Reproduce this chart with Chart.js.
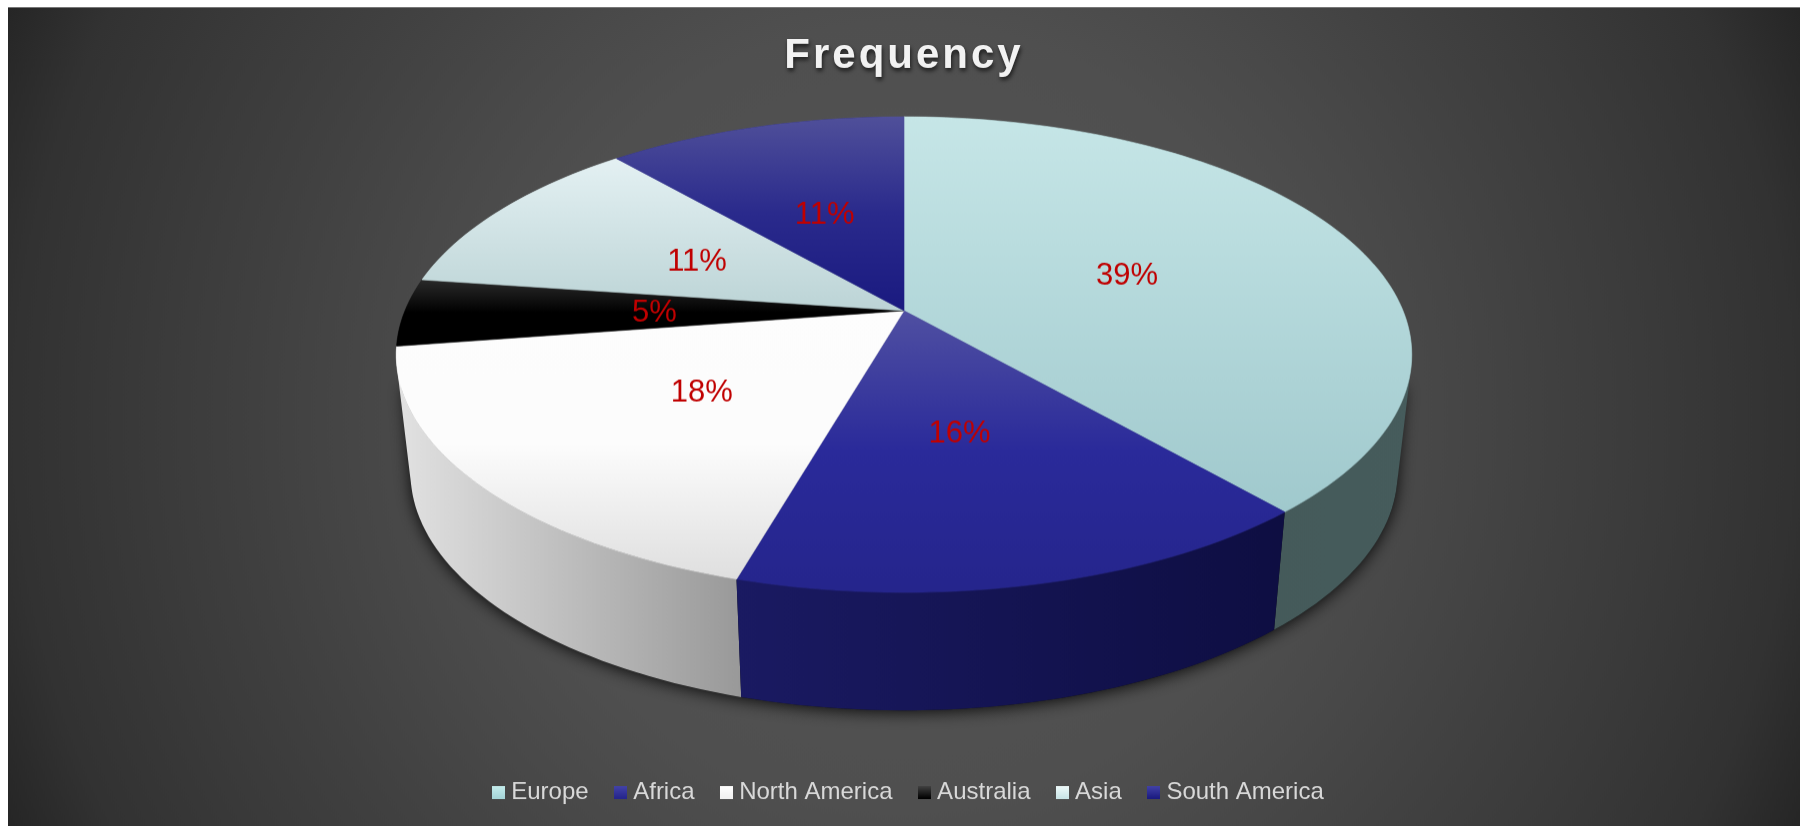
<!DOCTYPE html>
<html>
<head>
<meta charset="utf-8">
<title>Frequency</title>
<script src="https://cdn.jsdelivr.net/npm/chart.js@4"></script>
<style>
  html, body { margin: 0; padding: 0; background: #fff; overflow: hidden; }
  #chart { position: absolute; left: 8px; top: 7px; border-top: 1px solid #777; display: block; }
</style>
</head>
<body>
<canvas id="chart" width="1792" height="819"></canvas>
<script>
const regions = ["Europe", "Africa", "North America", "Australia", "Asia", "South America"];
const frequency = [38.6, 15.85, 18.15, 4.6, 11.4, 11.4];

// top face gradient stops, one list per slice
const topColors = [
  ["#c6e6e7", "#a0c9cd"],
  ["#5050a2", "#2a2a9a", "#25258c"],
  ["#fdfdfd", "#fcfcfc", "#dfdfdf"],
  ["#2a2a2a", "#000000", "#000000"],
  ["#e4f1f3", "#bcd4d6"],
  ["#50509a", "#2a2a8c", "#1a1a80"],
];
const wallColors = [
  ["#415656", "#465c5c"],
  ["#1a1a62", "#0e0e42"],
  ["#e2e2e2", "#999999"],
  ["#222222", "#000000"],
  ["#c0d4d6", "#9fb4b6"],
  ["#1a1a62", "#0e0e42"],
];
const legendColors = [
  ["#c6eeee", "#a5d5d8"],
  ["#4444aa", "#25258c"],
  ["#ffffff", "#f0f0f0"],
  ["#444444", "#000000"],
  ["#f0fbfb", "#c8e4e6"],
  ["#4444aa", "#1a1a80"],
];

// perspective of the disc, in canvas pixels
const apexX = 896;
const apexY = 303;
const discA = 499;
const discB = 230;
const discK = 0.185;
const rimScale = 0.972;
const rimDrop = 118;

function project(u, v) {
  const w = 1 / (1 - discK * v);
  return { x: apexX + discA * u * w, y: apexY + discB * v * w };
}

function lowerRim(p) {
  return { x: apexX + (p.x - apexX) * rimScale, y: p.y + rimDrop };
}

function rimPoints(start, end) {
  const n = Math.max(2, Math.ceil((end - start) * 40));
  const pts = [];
  for (let i = 0; i <= n; i++) {
    const t = start + ((end - start) * i) / n;
    pts.push(project(Math.cos(t), Math.sin(t)));
  }
  return pts;
}

function tracePath(ctx, pts) {
  ctx.beginPath();
  pts.forEach((p, i) => (i ? ctx.lineTo(p.x, p.y) : ctx.moveTo(p.x, p.y)));
  ctx.closePath();
}

function gradientOf(ctx, stops, x0, y0, x1, y1) {
  const g = ctx.createLinearGradient(x0, y0, x1, y1);
  stops.forEach((c, i) => g.addColorStop(i / (stops.length - 1), c));
  return g;
}

function legendMarker(stops) {
  const c = document.createElement("canvas");
  c.width = 13;
  c.height = 13;
  const x = c.getContext("2d");
  x.fillStyle = gradientOf(x, stops, 0, 0, 0, 13);
  x.fillRect(0, 0, 13, 13);
  return c;
}

// one path made of all the quads between the rims, wound the same way so nothing cancels
function traceWall(ctx, top, low) {
  ctx.beginPath();
  for (let s = 0; s < top.length - 1; s++) {
    let quad = [top[s], top[s + 1], low[s + 1], low[s]];
    let area = 0;
    quad.forEach((p, j) => {
      const q = quad[(j + 1) % 4];
      area += p.x * q.y - q.x * p.y;
    });
    if (area < 0) quad = quad.reverse();
    quad.forEach((p, j) => (j ? ctx.lineTo(p.x, p.y) : ctx.moveTo(p.x, p.y)));
    ctx.closePath();
  }
}

const midOf = (arc) => (arc.startAngle + arc.endAngle) / 2;

const pie3d = {
  id: "pie3d",
  afterLayout(chart) {
    // legend row sits a little right of the canvas centre
    chart.legend.left += 14;
  },
  beforeDraw(chart) {
    const { ctx, width, height } = chart;
    const bg = ctx.createRadialGradient(width / 2, height / 2, 0, width / 2, height / 2, 990);
    bg.addColorStop(0, "#565656");
    bg.addColorStop(0.4, "#4f4f4f");
    bg.addColorStop(0.51, "#494949");
    bg.addColorStop(0.66, "#404040");
    bg.addColorStop(0.75, "#3b3b3b");
    bg.addColorStop(0.9, "#323232");
    bg.addColorStop(0.985, "#272727");
    bg.addColorStop(1, "#252525");
    ctx.fillStyle = bg;
    ctx.fillRect(0, 0, width, height);

    const title = chart.titleBlock;
    if (!title._spaced) {
      const drawTitle = title.draw;
      title.draw = function () {
        ctx.save();
        ctx.letterSpacing = "3px";
        ctx.shadowColor = "rgba(0,0,0,0.65)";
        ctx.shadowBlur = 4;
        ctx.shadowOffsetX = 1;
        ctx.shadowOffsetY = 3;
        drawTitle.call(title);
        ctx.restore();
      };
      title._spaced = true;
    }
  },
  beforeDatasetDraw(chart, args) {
    const { ctx } = chart;
    const arcs = chart.getDatasetMeta(args.index).data;
    const ringStart = arcs[0].startAngle;

    // soft shadow under the disc, lower rim joined to just inside the widest points of the top rim
    const lower = rimPoints(ringStart, ringStart + Math.PI * 2).map(lowerRim);
    const front = lower.filter((p) => p.y > apexY + 170);
    front.sort((p, q) => p.x - q.x);
    const tuck = (p) => ({ x: apexX + (p.x - apexX) * 0.985, y: p.y + 30 });
    const base = [tuck(project(-0.983, 0.185)), ...front, tuck(project(0.983, 0.185))];
    ctx.save();
    ctx.shadowColor = "rgba(0,0,0,0.85)";
    ctx.shadowBlur = 16;
    ctx.shadowOffsetY = 2;
    ctx.fillStyle = "#111";
    tracePath(ctx, base);
    ctx.fill();
    ctx.restore();

    // outer walls, back slices first
    const order = arcs.map((arc, i) => i).sort((p, q) => Math.sin(midOf(arcs[p])) - Math.sin(midOf(arcs[q])));
    order.forEach((i) => {
      const arc = arcs[i];
      const top = rimPoints(arc.startAngle, arc.endAngle);
      const low = top.map(lowerRim);
      const xs = top.concat(low).map((p) => p.x);
      ctx.fillStyle = gradientOf(ctx, wallColors[i], Math.min(...xs), 0, Math.max(...xs), 0);
      traceWall(ctx, top, low);
      ctx.fill("nonzero");
    });

    // top faces
    arcs.forEach((arc, i) => {
      const face = [project(0, 0)].concat(rimPoints(arc.startAngle, arc.endAngle));
      const ys = face.map((p) => p.y);
      const fill = gradientOf(ctx, topColors[i], 0, Math.min(...ys), 0, Math.max(...ys));
      tracePath(ctx, face);
      ctx.fillStyle = fill;
      ctx.strokeStyle = fill;
      ctx.lineWidth = 0.6;
      ctx.fill();
      ctx.stroke();
    });

    // percentage labels
    const total = frequency.reduce((a, b) => a + b, 0);
    ctx.save();
    ctx.font = "31px 'Liberation Sans'";
    ctx.fillStyle = "#c00000";
    ctx.textAlign = "center";
    ctx.textBaseline = "middle";
    arcs.forEach((arc, i) => {
      const mid = midOf(arc);
      const p = project(Math.cos(mid) / 2, Math.sin(mid) / 2);
      const back = Math.sin(mid) < 0;
      const x = back ? apexX + (p.x - apexX) * 0.985 : p.x - 4 * Math.sin(mid);
      const y = back ? p.y + 4 : p.y + 2 * Math.cos(mid) * Math.cos(mid);
      ctx.fillText(Math.round((frequency[i] / total) * 100) + "%", x, y);
    });
    ctx.restore();
    return false;
  },
};

new Chart(document.getElementById("chart"), {
  type: "pie",
  data: {
    labels: regions,
    datasets: [
      {
        data: frequency,
        backgroundColor: topColors.map((c) => c[c.length - 1]),
        borderWidth: 0,
      },
    ],
  },
  options: {
    responsive: false,
    animation: false,
    layout: { padding: { bottom: 12 } },
    plugins: {
      title: {
        display: true,
        text: "Frequency",
        color: "#f2f2f2",
        font: { family: "'Liberation Sans'", size: 42, weight: "bold" },
        padding: { top: 23, bottom: 10 },
      },
      legend: {
        position: "bottom",
        labels: {
          font: { family: "'Liberation Sans'", size: 24 },
          color: "#d9d9d9",
          usePointStyle: true,
          pointStyleWidth: 1,
          boxHeight: 13,
          padding: 31.6,
          generateLabels: () =>
            regions.map((name, i) => ({
              text: name,
              fontColor: "#d9d9d9",
              pointStyle: legendMarker(legendColors[i]),
              lineWidth: 0,
              index: i,
            })),
        },
      },
      tooltip: { enabled: false },
    },
  },
  plugins: [pie3d],
});
</script>
</body>
</html>
